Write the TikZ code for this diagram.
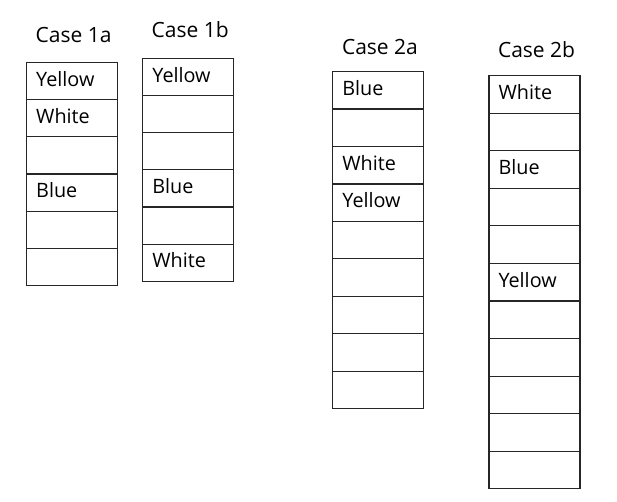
\documentclass[tikz,border=0pt]{standalone}
\usepackage{fontspec}
\setmainfont{Open Sans}
\begin{document}
\begin{tikzpicture}[x=1pt,y=-1pt,
  cell/.style={draw=black!85, line width=1.2pt, minimum width=91pt, minimum height=#1, inner sep=0pt, anchor=north west},
  lbl/.style={anchor=base west, font=\fontsize{19.8}{22}\selectfont, inner sep=0pt},
  ttl/.style={anchor=base west, font=\fontsize{21}{24}\selectfont, inner sep=0pt}]
\useasboundingbox (0,0) rectangle (617,501);
\fill[white] (0,0) rectangle (617,501);
% titles
\node[ttl] (t1a) at (35.5,42) {Case 1a};
\node[ttl] (t1b) at (151.5,37.3) {Case 1b};
\node[ttl] (t2a) at (341.8,54.3) {Case 2a};
\node[ttl] (t2b) at (497.8,57.7) {Case 2b};
% columns
\foreach \i in {1,...,6} \node[cell=37.22pt] (a\i) at (26,{61.7+(\i-1)*37.22}) {};
\foreach \i in {1,...,6} \node[cell=37.17pt] (b\i) at (141.7,{57.7+(\i-1)*37.17}) {};
\foreach \i in {1,...,9} \node[cell=37.44pt] (c\i) at (331.7,{71+(\i-1)*37.44}) {};
\foreach \i in {1,...,11} \node[cell=37.57pt] (d\i) at (488.3,{75+(\i-1)*37.57}) {};
% labels
\node[lbl] (la1) at ([shift={(10,24.3)}]a1.north west) {Yellow};
\node[lbl] (la2) at ([shift={(10,24.3)}]a2.north west) {White};
\node[lbl] (la4) at ([shift={(10,24.3)}]a4.north west) {Blue};
\node[lbl] (lb1) at ([shift={(10.5,24.3)}]b1.north west) {Yellow};
\node[lbl] (lb4) at ([shift={(10.5,24.3)}]b4.north west) {Blue};
\node[lbl] (lb6) at ([shift={(10.5,24.3)}]b6.north west) {White};
\node[lbl] (lc1) at ([shift={(10.5,24.3)}]c1.north west) {Blue};
\node[lbl] (lc3) at ([shift={(10.5,24.3)}]c3.north west) {White};
\node[lbl] (lc4) at ([shift={(10.5,24.3)}]c4.north west) {Yellow};
\node[lbl] (ld1) at ([shift={(10,24.3)}]d1.north west) {White};
\node[lbl] (ld3) at ([shift={(10,24.3)}]d3.north west) {Blue};
\node[lbl] (ld6) at ([shift={(10,24.3)}]d6.north west) {Yellow};
\end{tikzpicture}
\end{document}
